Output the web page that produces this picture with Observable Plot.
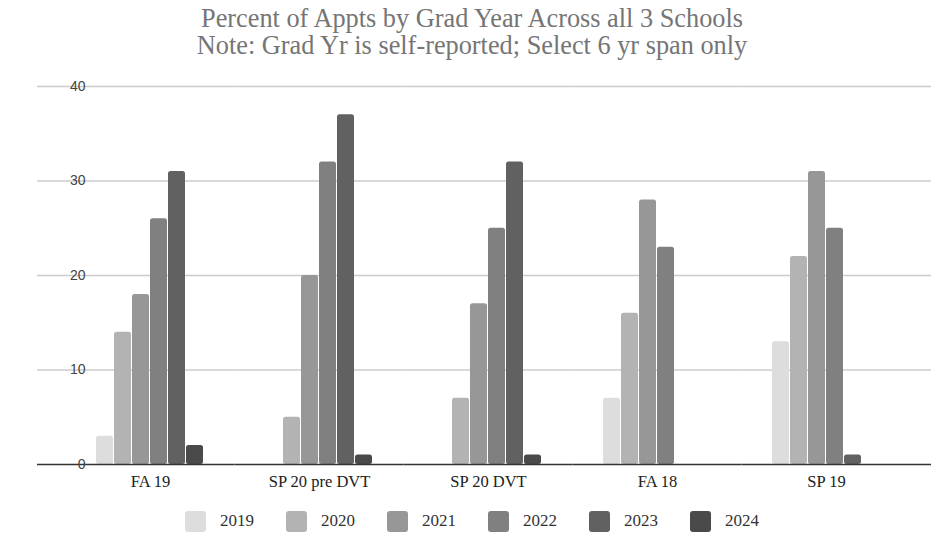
<!DOCTYPE html>
<html><head><meta charset="utf-8">
<script src="https://cdn.jsdelivr.net/npm/d3@7"></script>
<script src="https://cdn.jsdelivr.net/npm/@observablehq/plot@0.6"></script>
<style>
html,body{margin:0;padding:0;background:#fff;width:931px;height:535px;overflow:hidden}
#title{height:66px;box-sizing:border-box;padding-top:5px;padding-left:13px;text-align:center;font-family:"Liberation Serif",serif;font-size:26.3px;line-height:27px;color:#757575}
#chart svg{display:block}
#legend{display:flex;justify-content:center;align-items:center;height:50px;box-sizing:border-box;padding-left:13px;font-family:"Liberation Serif",serif;font-size:17px;color:#333}
.item{display:flex;align-items:center;margin:0 16px}
.sw{width:21px;height:21px;border-radius:3px;margin-right:14px}
</style>
</head><body>
<div id="title">Percent of Appts by Grad Year Across all 3 Schools<br>Note: Grad Yr is self-reported; Select 6 yr span only</div>
<div id="chart"></div>
<div id="legend"></div>
<script>
const groups = ["FA 19", "SP 20 pre DVT", "SP 20 DVT", "FA 18", "SP 19"];
const years = ["2019", "2020", "2021", "2022", "2023", "2024"];
const v2019 = [3, 0, 0, 7, 13];
const v2020 = [14, 5, 7, 16, 22];
const v2021 = [18, 20, 17, 28, 31];
const v2022 = [26, 32, 25, 23, 25];
const v2023 = [31, 37, 32, 0, 1];
const v2024 = [2, 1, 1, 0, 0];
const yTicks = [0, 10, 20, 30, 40];
const colors = ["#dddddd", "#b3b3b3", "#979797", "#808080", "#616161", "#4a4a4a"];

const series = [v2019, v2020, v2021, v2022, v2023, v2024];
const data = groups.flatMap((g, i) => years.map((y, j) => ({group: g, year: y, value: series[j][i]})));

// horizontal lines spanning the whole frame, split per facet so they do not overlap
function spanRules(yVals, opts) {
  const rows = gs => gs.flatMap(g => yVals.map(v => ({g, v})));
  return [
    Plot.ruleY(rows(groups.slice(0, 1)), {fx: "g", y: "v", ...opts, insetLeft: -57, insetRight: -28.5}),
    Plot.ruleY(rows(groups.slice(1, -1)), {fx: "g", y: "v", ...opts, insetLeft: -28.5, insetRight: -28.5}),
    Plot.ruleY(rows(groups.slice(-1)), {fx: "g", y: "v", ...opts, insetLeft: -28.5, insetRight: -60})
  ];
}

const chart = Plot.plot({
  width: 931, height: 430,
  marginTop: 20, marginBottom: 32, marginLeft: 36, marginRight: 0,
  style: {background: "#fff", overflow: "hidden"},
  fx: {domain: groups, paddingInner: 0.335, paddingOuter: 0.312, align: 0.54, label: null},
  x: {domain: years, paddingInner: 0.05, paddingOuter: 0, axis: null},
  y: {domain: [0, 40], label: null},
  color: {domain: years, range: colors},
  marks: [
    ...spanRules(yTicks.filter(d => d > 0), {stroke: "#cccccc", strokeWidth: 1.3}),
    Plot.barY(data.filter(d => d.value > 0), {fx: "group", x: "year", y: "value", fill: "year", rx: 2.5}),
    ...spanRules([0], {stroke: "#333333", strokeWidth: 1.5}),
    Plot.axisY({ticks: yTicks, tickSize: 0, tickPadding: 9, label: null, fontSize: 14, fontFamily: "Liberation Sans", color: "#444"}),
    Plot.axisFx({anchor: "bottom", tickSize: 0, tickPadding: 11, label: null, fontSize: 16.5, fontFamily: "Liberation Serif", color: "#222"})
  ]
});
document.getElementById("chart").appendChild(chart);

const legend = document.getElementById("legend");
years.forEach((y, i) => {
  const it = document.createElement("div");
  it.className = "item";
  const sw = document.createElement("div");
  sw.className = "sw";
  sw.style.background = colors[i];
  const lb = document.createElement("span");
  lb.textContent = y;
  it.appendChild(sw); it.appendChild(lb);
  legend.appendChild(it);
});
</script>
</body></html>
